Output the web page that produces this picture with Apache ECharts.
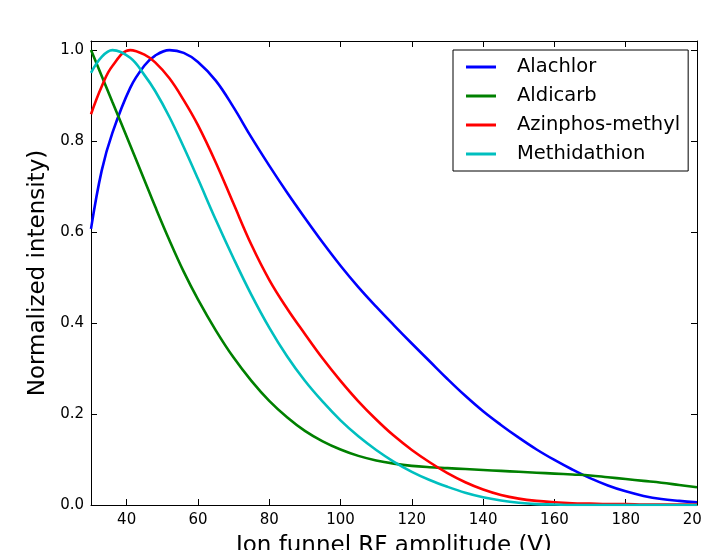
<!DOCTYPE html>
<html>
<head>
<meta charset="utf-8">
<script src="https://cdn.jsdelivr.net/npm/echarts@6/dist/echarts.min.js"></script>
<style>
  body { margin: 0; background: #fff; }
  #chart { width: 701px; height: 550px; }
</style>
</head>
<body>
<div id="chart"></div>
<script>
  // RF amplitude (V)
  let xValues = [30, 33, 36, 41, 45, 48, 52, 56, 60, 65, 70, 75, 80, 85, 90, 95, 100, 105, 110, 115, 120,
    125, 130, 135, 140, 145, 150, 155, 160, 165, 170, 175, 180, 185, 190, 195, 200];
  let seriesNames = ['Alachlor', 'Aldicarb', 'Azinphos-methyl', 'Methidathion'];
  let alachlor = [0.607, 0.735, 0.818, 0.917, 0.966, 0.988, 1.0, 0.994, 0.974, 0.933, 0.874, 0.808, 0.746,
    0.687, 0.631, 0.577, 0.526, 0.479, 0.436, 0.395, 0.355, 0.316, 0.277, 0.24, 0.206, 0.176, 0.148,
    0.122, 0.099, 0.078, 0.059, 0.043, 0.03, 0.02, 0.013, 0.009, 0.006];
  let aldicarb = [1.0, 0.943, 0.886, 0.791, 0.714, 0.656, 0.582, 0.513, 0.452, 0.384, 0.324, 0.273, 0.229,
    0.193, 0.163, 0.14, 0.122, 0.108, 0.098, 0.091, 0.086, 0.083, 0.081, 0.079, 0.077, 0.075, 0.073,
    0.071, 0.069, 0.067, 0.065, 0.061, 0.057, 0.053, 0.049, 0.044, 0.039];
  let azinphos = [0.859, 0.92, 0.965, 1.0, 0.99, 0.973, 0.938, 0.89, 0.835, 0.753, 0.662, 0.572, 0.495,
    0.432, 0.376, 0.322, 0.273, 0.228, 0.188, 0.152, 0.121, 0.094, 0.07, 0.05, 0.034, 0.022, 0.014,
    0.009, 0.006, 0.004, 0.003, 0.002, 0.002, 0.001, 0.001, 0.001, 0.001];
  let methidathion = [0.95, 0.985, 1.0, 0.983, 0.945, 0.91, 0.853, 0.787, 0.717, 0.627, 0.542, 0.462, 0.39,
    0.327, 0.273, 0.227, 0.186, 0.151, 0.121, 0.095, 0.073, 0.055, 0.04, 0.027, 0.017, 0.01, 0.005,
    0.002, 0.001, 0, 0, 0, 0, 0, 0, 0, 0];
  let colors = ['#0000ff', '#008000', '#ff0000', '#00bfbf'];

  let font = 'DejaVu Sans';
  let myChart = echarts.init(document.getElementById('chart'));

  let allValues = [alachlor, aldicarb, azinphos, methidathion];
  let series = [];
  for (let i = 0; i < seriesNames.length; i++) {
    series.push({
      name: seriesNames[i],
      type: 'line',
      data: xValues.map(function (x, j) { return [x, allValues[i][j]]; }),
      smooth: 0.4,
      showSymbol: false,
      lineStyle: { color: colors[i], width: 2.6 },
      itemStyle: { color: colors[i] }
    });
  }

  let tickStyle = { show: true, inside: true, length: 6, lineStyle: { color: '#000', width: 1 } };
  let lineStyle = { show: true, onZero: false, lineStyle: { color: '#000', width: 1 } };

  myChart.setOption({
    animation: false,
    color: colors,
    grid: {
      left: 91,
      right: 4,
      top: 41,
      bottom: 45,
      containLabel: false,
      outerBoundsMode: 'none'
    },
    legend: {
      orient: 'vertical',
      left: 453,
      top: 50,
      padding: [7, 8, 7, 13],
      itemGap: 9,
      itemWidth: 30,
      itemHeight: 3,
      icon: 'rect',
      backgroundColor: '#fff',
      borderColor: '#000',
      borderWidth: 1,
      borderRadius: 0,
      textStyle: {
        fontFamily: font,
        fontSize: 19.5,
        lineHeight: 20,
        color: '#000',
        padding: [0, 0, 0, 16]
      },
      data: seriesNames
    },
    xAxis: [{
      type: 'value',
      min: 30,
      max: 200,
      splitNumber: 8,
      name: 'Ion funnel RF amplitude (V)',
      nameLocation: 'middle',
      nameGap: 30,
      nameTextStyle: { fontFamily: font, fontSize: 23, color: '#000', verticalAlign: 'top' },
      axisLine: lineStyle,
      axisTick: tickStyle,
      splitLine: { show: false },
      axisLabel: {
        fontFamily: font,
        fontSize: 15,
        color: '#000',
        margin: 8,
        formatter: function (v) { return v % 20 === 0 ? String(v) : ''; }
      }
    }, {
      type: 'value',
      position: 'top',
      min: 30,
      max: 200,
      splitNumber: 8,
      axisLine: lineStyle,
      axisTick: tickStyle,
      splitLine: { show: false },
      axisLabel: { show: false }
    }],
    yAxis: [{
      type: 'value',
      min: 0,
      max: 1.02,
      splitNumber: 5,
      name: 'Normalized intensity)',
      nameLocation: 'middle',
      nameGap: 38,
      nameRotate: 90,
      nameTextStyle: { fontFamily: font, fontSize: 23, color: '#000' },
      axisLine: lineStyle,
      axisTick: tickStyle,
      splitLine: { show: false },
      axisLabel: {
        fontFamily: font,
        fontSize: 15,
        color: '#000',
        margin: 7,
        formatter: function (v) {
          return Math.abs(v * 5 - Math.round(v * 5)) < 1e-6 ? v.toFixed(1) : '';
        }
      }
    }, {
      type: 'value',
      position: 'right',
      min: 0,
      max: 1.02,
      splitNumber: 5,
      axisLine: lineStyle,
      axisTick: tickStyle,
      splitLine: { show: false },
      axisLabel: { show: false }
    }],
    series: series
  });
</script>
</body>
</html>
